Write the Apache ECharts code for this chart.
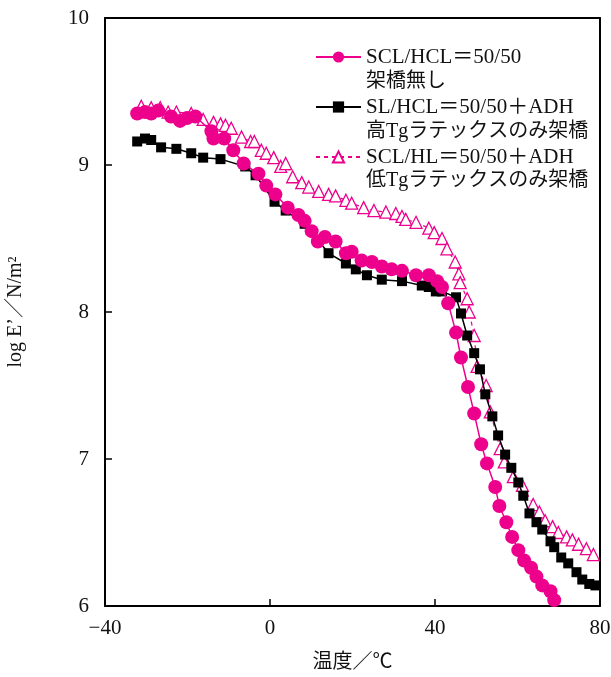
<!DOCTYPE html>
<html>
<head>
<meta charset="utf-8">
<title>log E' vs temperature</title>
<script src="https://cdn.jsdelivr.net/npm/echarts@6/dist/echarts.min.js"></script>
<style>
    html, body { margin: 0; padding: 0; background: #fff; }
    #main { width: 611px; height: 677px; }
</style>
</head>
<body>
<div id="main"></div>
<script>
// SCL/HCL=50/50 架橋無し (pink circles)
var tempA = [-32.2, -30.3, -28.8, -27.1, -24.0, -21.8, -20.1, -18.1, -14.2, -13.7, -11.1, -8.9, -6.4, -2.8, -0.9, 1.3, 4.3, 6.9, 8.4, 10.1, 11.6, 13.3, 15.9, 18.4, 19.8, 22.2, 24.7, 27.1, 29.5, 32.0, 35.4, 38.5, 40.5, 41.7, 43.2, 45.1, 46.3, 48.0, 49.5, 51.2, 52.6, 54.6, 55.6, 57.3, 58.7, 60.2, 61.6, 63.3, 64.6, 66.0, 68.0, 68.9];
var logEA = [9.35, 9.36, 9.35, 9.37, 9.33, 9.30, 9.32, 9.33, 9.23, 9.18, 9.18, 9.10, 9.01, 8.94, 8.86, 8.80, 8.71, 8.66, 8.62, 8.55, 8.48, 8.51, 8.48, 8.40, 8.41, 8.35, 8.34, 8.31, 8.29, 8.28, 8.25, 8.25, 8.21, 8.17, 8.06, 7.86, 7.69, 7.49, 7.31, 7.10, 6.97, 6.81, 6.68, 6.57, 6.47, 6.38, 6.31, 6.26, 6.20, 6.14, 6.10, 6.04];

// SL/HCL=50/50+ADH 高Tgラテックスのみ架橋 (black squares)
var tempB = [-32.2, -30.3, -28.8, -26.4, -22.7, -19.1, -16.2, -12.0, -6.0, -3.5, 1.1, 3.8, 8.4, 14.2, 18.4, 20.8, 23.5, 27.1, 32.0, 36.8, 38.5, 40.2, 41.7, 45.1, 46.3, 47.8, 49.5, 50.9, 52.2, 53.9, 55.3, 57.0, 58.5, 60.2, 61.4, 62.9, 64.6, 66.0, 68.0, 68.9, 70.6, 72.3, 74.3, 75.7, 77.4, 78.9];
var logEB = [9.16, 9.18, 9.17, 9.12, 9.11, 9.08, 9.05, 9.04, 8.99, 8.93, 8.75, 8.69, 8.60, 8.40, 8.33, 8.29, 8.25, 8.22, 8.21, 8.18, 8.17, 8.14, 8.14, 8.10, 7.99, 7.84, 7.72, 7.61, 7.44, 7.29, 7.16, 7.03, 6.94, 6.84, 6.75, 6.63, 6.57, 6.52, 6.44, 6.40, 6.33, 6.29, 6.23, 6.18, 6.15, 6.14];

// SCL/HL=50/50+ADH 低Tgラテックスのみ架橋 (open triangles)
var tempC = [-31.2, -28.8, -26.6, -24.7, -22.7, -19.1, -16.2, -13.7, -12.0, -10.8, -9.4, -6.9, -4.7, -3.8, -2.1, -0.9, 0.9, 2.6, 3.8, 5.5, 7.7, 9.4, 11.8, 14.2, 15.9, 18.4, 19.8, 22.7, 25.2, 28.1, 30.5, 32.0, 32.9, 35.4, 38.5, 39.8, 41.7, 42.9, 44.9, 45.8, 46.1, 47.8, 48.3, 49.5, 50.2, 52.4, 53.4, 55.8, 56.8, 59.0, 61.2, 63.8, 65.3, 66.7, 68.5, 69.9, 71.9, 73.3, 74.8, 76.7, 78.4];
var logEC = [9.40, 9.39, 9.39, 9.36, 9.36, 9.35, 9.31, 9.29, 9.28, 9.27, 9.25, 9.19, 9.16, 9.16, 9.10, 9.08, 9.05, 8.99, 9.01, 8.92, 8.88, 8.85, 8.82, 8.80, 8.79, 8.76, 8.74, 8.71, 8.69, 8.68, 8.67, 8.65, 8.63, 8.61, 8.57, 8.54, 8.50, 8.43, 8.34, 8.26, 8.20, 8.09, 8.00, 7.84, 7.63, 7.50, 7.32, 7.07, 6.98, 6.88, 6.82, 6.69, 6.64, 6.58, 6.54, 6.50, 6.47, 6.45, 6.42, 6.39, 6.35];

var seriesNames = ['SCL/HCL＝50/50', 'SL/HCL＝50/50＋ADH', 'SCL/HL＝50/50＋ADH'];
var secondLines = ['架橋無し', '高Tgラテックスのみ架橋', '低Tgラテックスのみ架橋'];
// inner tick positions (the end ticks sit on the frame)
var xInnerTicks = [0, 40];
var yInnerTicks = [7, 8, 9];

var X_MIN = -40, X_MAX = 80, Y_MIN = 6, Y_MAX = 10;
var PINK = '#EC008C';
var FONT = "'Liberation Serif', 'Noto Sans CJK JP', serif";

function pairs(xs, ys) {
    var out = [];
    for (var i = 0; i < xs.length; i++) {
        out.push([xs[i], ys[i]]);
    }
    return out;
}

var chart = echarts.init(document.getElementById('main'), null, { renderer: 'canvas' });

var option = {
    backgroundColor: '#fff',
    animation: false,
    textStyle: { fontFamily: FONT, color: '#111' },
    grid: {
        left: 105,
        right: 11,
        top: 18,
        bottom: 71,
        outerBoundsMode: 'none',
        containLabel: false,
        show: false
    },
    legend: {
        orient: 'vertical',
        left: 315,
        top: 45,
        padding: 0,
        itemWidth: 45,
        itemHeight: 14,
        itemGap: 26,
        data: [seriesNames[0], seriesNames[1], seriesNames[2]],
        textStyle: { fontFamily: FONT, fontSize: 21, color: '#111', lineHeight: 24 }
    },
    xAxis: [
        {
            type: 'value',
            position: 'bottom',
            min: X_MIN,
            max: X_MAX,
            interval: 40,
            name: '温度／℃',
            nameLocation: 'middle',
            nameGap: 47,
            nameTextStyle: { fontFamily: FONT, fontSize: 20, color: '#111' },
            axisLine: { show: true, onZero: false, lineStyle: { color: '#000', width: 2 } },
            axisTick: { show: false },
            splitLine: { show: false },
            axisLabel: {
                margin: 12,
                fontFamily: FONT,
                fontSize: 21,
                color: '#111',
                formatter: function (v) {
                    return v < 0 ? '−' + Math.abs(v) : String(v);
                }
            }
        },
        {
            type: 'value',
            position: 'top',
            min: X_MIN,
            max: X_MAX,
            axisLine: { show: true, onZero: false, lineStyle: { color: '#000', width: 2 } },
            axisTick: { show: false },
            axisLabel: { show: false },
            splitLine: { show: false }
        }
    ],
    yAxis: [
        {
            type: 'value',
            position: 'left',
            min: Y_MIN,
            max: Y_MAX,
            interval: 1,
            name: 'log E’／N/m²',
            nameLocation: 'middle',
            nameGap: 79,
            nameRotate: 90,
            nameTextStyle: { fontFamily: FONT, fontSize: 20, color: '#111' },
            axisLine: { show: true, onZero: false, lineStyle: { color: '#000', width: 2 } },
            axisTick: { show: false },
            splitLine: { show: false },
            axisLabel: { margin: 16, fontFamily: FONT, fontSize: 21, color: '#111' }
        },
        {
            type: 'value',
            position: 'right',
            min: Y_MIN,
            max: Y_MAX,
            axisLine: { show: true, onZero: false, lineStyle: { color: '#000', width: 2 } },
            axisTick: { show: false },
            axisLabel: { show: false },
            splitLine: { show: false }
        }
    ],
    series: [
        {
            name: seriesNames[2],
            type: 'line',
            data: pairs(tempC, logEC),
            symbol: 'triangle',
            symbolSize: 12,
            z: 2,
            lineStyle: { color: PINK, width: 1.2, type: [4, 4] },
            itemStyle: { color: '#fff', borderColor: PINK, borderWidth: 1.3 }
        },
        {
            name: seriesNames[1],
            type: 'line',
            data: pairs(tempB, logEB),
            symbol: 'rect',
            symbolSize: 10,
            z: 3,
            lineStyle: { color: '#000', width: 1.5 },
            itemStyle: { color: '#000' }
        },
        {
            name: seriesNames[0],
            type: 'line',
            data: pairs(tempA, logEA),
            symbol: 'circle',
            symbolSize: 14,
            z: 4,
            lineStyle: { color: PINK, width: 1.5 },
            itemStyle: { color: PINK }
        }
    ],
    graphic: {
        elements: [
            { id: 'l2a', type: 'text', left: 366, top: 72, style: { text: secondLines[0], font: '20px ' + FONT, fill: '#111' } },
            { id: 'l2b', type: 'text', left: 366, top: 122, style: { text: secondLines[1], font: '20px ' + FONT, fill: '#111' } },
            { id: 'l2c', type: 'text', left: 366, top: 171, style: { text: secondLines[2], font: '20px ' + FONT, fill: '#111' } }
        ]
    }
};

chart.setOption(option);

// inward ticks, placed through the axes' own scale
function addTicks() {
    var els = [];
    var ref = { xAxisIndex: 0, yAxisIndex: 0 };
    xInnerTicks.forEach(function (v, i) {
        var p = chart.convertToPixel(ref, [v, Y_MIN]);
        els.push({
            id: 'xt' + i, type: 'line', z: 100,
            shape: { x1: p[0], y1: p[1], x2: p[0], y2: p[1] - 7 },
            style: { stroke: '#000', lineWidth: 1.5 }
        });
    });
    yInnerTicks.forEach(function (v, i) {
        var p = chart.convertToPixel(ref, [X_MIN, v]);
        els.push({
            id: 'yt' + i, type: 'line', z: 100,
            shape: { x1: p[0], y1: p[1], x2: p[0] + 7, y2: p[1] },
            style: { stroke: '#000', lineWidth: 1.5 }
        });
    });
    chart.setOption({ graphic: { elements: els } });
}
addTicks();
</script>
</body>
</html>
